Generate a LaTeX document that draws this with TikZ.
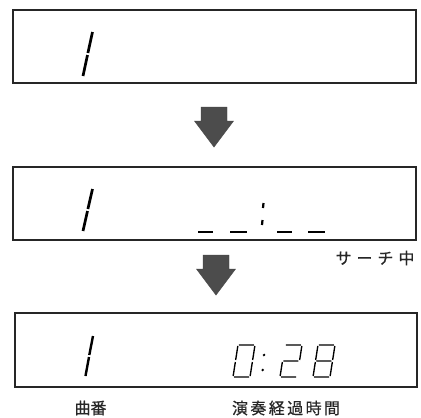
\documentclass[tikz,border=0pt]{standalone}
\usepackage{fontspec}
\newfontfamily\cjk[FakeBold=0.6]{Noto Sans CJK JP}
\begin{document}
\begin{tikzpicture}[x=1pt,y=-1pt,
  lcd/.style={draw=black!85,line width=1.3pt},
  seg/.style={line width=2.7pt,black},
  tseg/.style={line width=1.35pt,black},
  bigarrow/.style={fill=black!70,draw=black!75,line width=0.4pt},
  lab/.style={font=\cjk\fontsize{16}{17}\selectfont,inner sep=0pt,text=black!85}]
\useasboundingbox (0,0) rectangle (421,418);
% display boxes
\node[lcd,minimum width=403,minimum height=73,inner sep=0pt] (b1) at (214.5,46.5) {};
\node[lcd,minimum width=403,minimum height=73,inner sep=0pt] (b2) at (214.5,203.5) {};
\node[lcd,minimum width=402,minimum height=74,inner sep=0pt] (b3) at (216,350) {};
% arrows
\path[bigarrow] (201,107) -- (227,107) -- (227,121) -- (233.5,121) -- (214,147) -- (194.5,121) -- (201,121) -- cycle;
\path[bigarrow] (203,255) -- (229,255) -- (229,269) -- (235.5,269) -- (216,295) -- (196.5,269) -- (203,269) -- cycle;
% box 1 digit "1"
\draw[seg] (83,76) -- (87.5,55) (87.9,53) -- (92.5,32);
% box 2
\draw[seg] (83,231) -- (87.5,211) (87.9,209) -- (92.5,189);
\draw[line width=2.6pt] (198,232) -- (213,232) (230,232) -- (247,232) (277,232) -- (292,232) (308,232) -- (325,232);
\draw[line width=2.2pt] (263.5,203) -- (263,208) (262.5,220) -- (262,225);
% box 3
\draw[seg,line width=2.4pt] (85.5,376) -- (89,357) (89.3,355) -- (93,336);
\begin{scope}[shift={(0,377)},xslant=0.156]
  % 0
  \draw[tseg] (234,-32) -- (249,-32) (250,-31) -- (250,-17) (250,-15) -- (250,-1)
     (249,0) -- (234,0) (233,-1) -- (233,-15) (233,-17) -- (233,-31);
  % colon
  \fill (260.6,-22) circle (1.4);
  \fill (261.6,-7) circle (1.4);
  % 2
  \draw[tseg] (281,-32) -- (296,-32) (297,-31) -- (297,-17) (296,-16) -- (281,-16)
     (280,-15) -- (280,-1) (281,0) -- (296,0);
  % 8
  \draw[tseg] (314,-32) -- (329,-32) (330,-31) -- (330,-17) (330,-15) -- (330,-1)
     (329,0) -- (314,0) (313,-1) -- (313,-15) (313,-17) -- (313,-31) (314,-16) -- (329,-16);
\end{scope}
% labels
\node[lab] (search) at (375,258) {サ\kern5pt ー\kern5pt チ\kern5pt 中};
\node[lab] (track) at (90.5,408) {曲番};
\node[lab] (elapsed) at (286,408) {演\kern2.4pt 奏\kern2.4pt 経\kern2.4pt 過\kern2.4pt 時\kern2.4pt 間};
\end{tikzpicture}
\end{document}
